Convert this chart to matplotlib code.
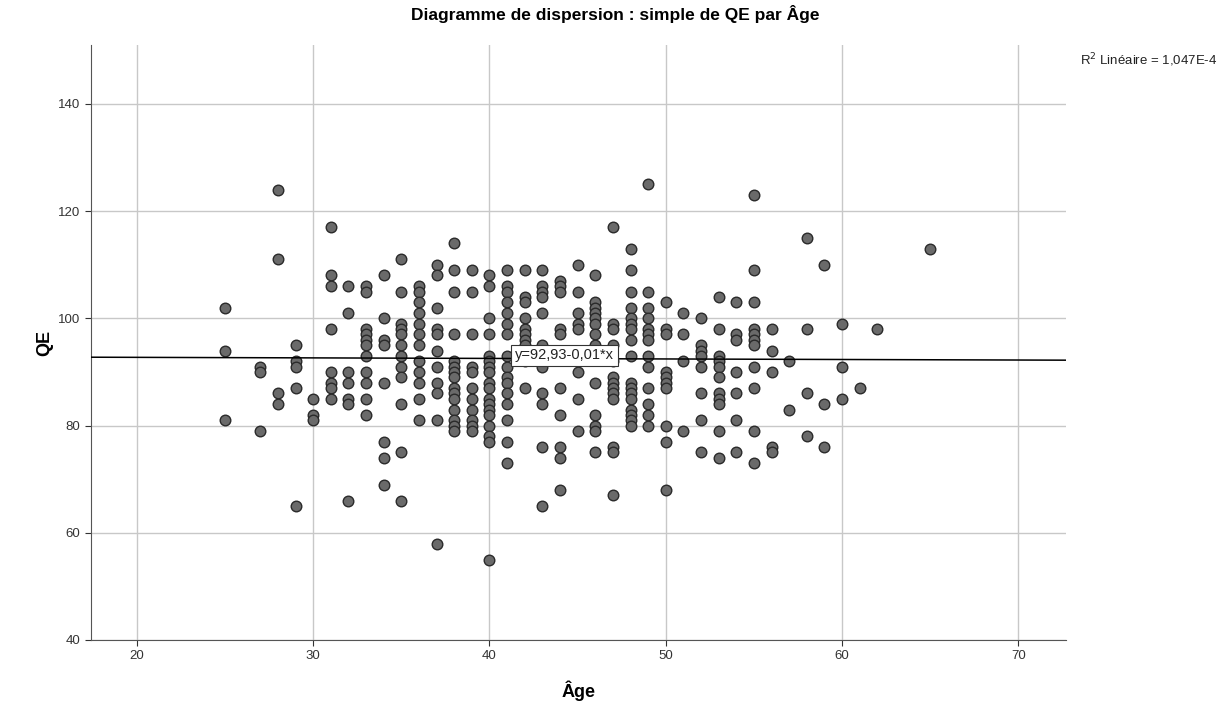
import numpy as np
import matplotlib
matplotlib.use("Agg")
import matplotlib.pyplot as plt

plt.rcParams['font.family'] = ['Liberation Sans', 'DejaVu Sans']

# QE values, grouped by age
ages = [25, 27, 28, 29, 30, 31, 32, 33, 34, 35, 36, 37, 38, 39, 40, 41, 42, 43,
        44, 45, 46, 47, 48, 49, 50, 51, 52, 53, 54, 55, 56, 57, 58, 59, 60, 61,
        62, 65]
qe_by_age = [
    [102, 94, 81],
    [91, 90, 79],
    [124, 111, 86, 84],
    [95, 92, 91, 87, 65],
    [85, 82, 81],
    [117, 108, 106, 98, 90, 88, 87, 85],
    [106, 101, 90, 88, 85, 84, 66],
    [106, 105, 98, 97, 96, 95, 93, 90, 88, 85, 82],
    [108, 100, 96, 95, 88, 77, 74, 69],
    [111, 105, 99, 98, 97, 95, 93, 91, 89, 84, 75, 66],
    [106, 105, 103, 101, 99, 97, 95, 92, 90, 88, 85, 81],
    [110, 108, 102, 98, 97, 94, 91, 88, 86, 81, 58],
    [114, 109, 105, 97, 92, 91, 90, 89, 87, 86, 85, 83, 81, 80, 79],
    [109, 105, 97, 91, 90, 87, 85, 83, 81, 80, 79],
    [108, 106, 100, 97, 93, 92, 91, 90, 88, 87, 85, 84, 83, 82, 80, 78, 77, 55],
    [109, 106, 105, 103, 101, 99, 97, 93, 91, 89, 88, 86, 84, 81, 77, 73],
    [109, 104, 103, 100, 98, 97, 96, 95, 94, 92, 87],
    [109, 106, 105, 104, 101, 95, 92, 91, 86, 84, 76, 65],
    [107, 106, 105, 98, 97, 93, 87, 82, 76, 74, 68],
    [110, 105, 101, 99, 98, 94, 90, 85, 79],
    [108, 103, 102, 101, 100, 99, 97, 95, 88, 82, 80, 79, 75],
    [117, 99, 98, 95, 92, 89, 88, 87, 86, 85, 76, 75, 67],
    [113, 109, 105, 102, 100, 99, 98, 96, 93, 88, 87, 86, 85, 83, 82, 81, 80],
    [125, 105, 102, 100, 98, 97, 96, 93, 91, 87, 84, 82, 80],
    [103, 98, 97, 90, 89, 88, 87, 80, 77, 68],
    [101, 97, 92, 79],
    [100, 95, 94, 93, 91, 86, 81, 75],
    [104, 98, 93, 92, 91, 89, 86, 85, 84, 79, 74],
    [103, 97, 96, 90, 86, 81, 75],
    [123, 109, 103, 98, 97, 96, 95, 91, 87, 79, 73],
    [98, 94, 90, 76, 75],
    [92, 83],
    [115, 98, 86, 78],
    [110, 84, 76],
    [99, 91, 85],
    [87],
    [98],
    [113],
]

# fit line as printed on the chart
intercept = 92.93
slope = -0.01
r2_text = "R$^2$ Linéaire = 1,047E-4"
eq_text = "y=92,93-0,01*x"

x = np.concatenate([[a] * len(q) for a, q in zip(ages, qe_by_age)])
y = np.concatenate(qe_by_age)

fig = plt.figure(figsize=(12.3, 7.12), dpi=100)
ax = fig.add_axes([91 / 1230, 72 / 712, 975 / 1230, 595 / 712])

xmin, xmax = 17.4, 72.7
ax.set_xlim(xmin, xmax)
ax.set_ylim(40, 151)
ax.set_xticks([20, 30, 40, 50, 60, 70])
ax.set_yticks([40, 60, 80, 100, 120, 140])
ax.grid(True, color='#c8c8c8', linewidth=1)
ax.set_axisbelow(True)

for side in ['top', 'right']:
    ax.spines[side].set_visible(False)
for side in ['left', 'bottom']:
    ax.spines[side].set_color('#555555')
ax.tick_params(colors='#333333', labelsize=9.5, length=4, width=0.8)

ax.scatter(x, y, s=58, facecolor='#6a6a6a', edgecolor='#2a2a2a',
           linewidth=1, zorder=3)

xl = np.array([xmin, xmax])
ax.plot(xl, intercept + slope * xl, color='black', linewidth=1.1, zorder=4)

ax.text(41.45, 93.1, eq_text, ha='left', va='center', fontsize=10.5,
        color='#222222', zorder=5,
        bbox=dict(boxstyle='square,pad=0.25', facecolor='white',
                  edgecolor='#333333', linewidth=0.8))

ax.set_xlabel('Âge', fontsize=13, fontweight='bold', labelpad=13)
ax.set_ylabel('QE', fontsize=13, fontweight='bold', labelpad=4)
fig.text(0.5, 1 - 14 / 712, 'Diagramme de dispersion : simple de QE par Âge',
         ha='center', va='center', fontsize=12.5, fontweight='bold')
fig.text(1080 / 1230, 1 - 60 / 712, r2_text, ha='left', va='center',
         fontsize=9.5, color='#222222')

fig.savefig('out.png', dpi=100)
